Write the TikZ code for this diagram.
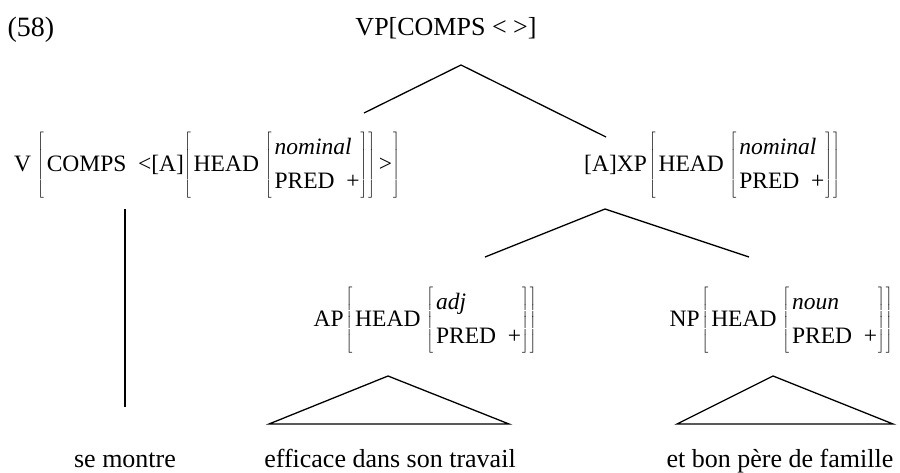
\documentclass[tikz,border=0pt]{standalone}
\usepackage{fontspec}
\setmainfont{Liberation Serif}
\usetikzlibrary{positioning}
\renewcommand{\arraystretch}{1.25}
\newcommand{\avm}[1]{$\left[\begin{tabular}{@{\hspace{3pt}}l@{\hspace{1pt}}}#1\end{tabular}\right]$}

\begin{document}
\begin{tikzpicture}[x=1pt, y=-1pt,
  avmnode/.style={inner sep=0pt, font=\fontsize{23.5}{27}\selectfont},
  bignode/.style={inner sep=0pt, font=\fontsize{26}{30}\selectfont},
  wordnode/.style={bignode, anchor=base},
  branch/.style={line width=1.3pt},
]
  \useasboundingbox (0,0) rectangle (900,473);

  \node[bignode, font=\fontsize{28}{32}\selectfont] (ex) at (31,30) {(58)};
  \node[bignode] (vp) at (446,28) {VP[COMPS < >]};

  \node[avmnode] (v) at (207,165) {V\hspace{6pt}\avm{COMPS\ \ <[A]\avm{HEAD\ \avm{\textit{nominal}\\PRED\ \ +}}\hspace{4pt}>}};
  \node[avmnode] (xp) at (712,165) {[A]XP\hspace{2pt}\avm{HEAD\ \avm{\textit{nominal}\\PRED\ \ +}}};

  \node[avmnode] (ap) at (425,320) {AP\hspace{2pt}\avm{HEAD\ \avm{\textit{adj}\\PRED\ \ +}}};
  \node[avmnode] (np) at (781,320) {NP\hspace{2pt}\avm{HEAD\ \avm{\textit{noun}\\PRED\ \ +}}};

  \node[wordnode] (w1) at (125,467) {se montre};
  \node[wordnode] (w2) at (390,467) {efficace dans son travail};
  \node[wordnode] (w3) at (780,467) {et bon père de famille};

  % branch points
  \coordinate (vp-top) at (461,65);
  \coordinate (v-top) at (364,113);
  \coordinate (xp-top) at (606,137);
  \coordinate (xp-bot) at (605,209);
  \coordinate (ap-top) at (485,257);
  \coordinate (np-top) at (749,257);
  \coordinate (v-bot) at (125,209);
  \coordinate (w1-top) at (125,407);

  \draw[branch] (v-top) -- (vp-top) -- (xp-top);
  \draw[branch] (ap-top) -- (xp-bot) -- (np-top);
  \draw[branch] (v-bot) -- (w1-top);

  % triangles
  \draw[branch] (388,376) -- (269,424) -- (509,424) -- cycle;
  \draw[branch] (773,376) -- (677,424) -- (893,424) -- cycle;
\end{tikzpicture}
\end{document}
